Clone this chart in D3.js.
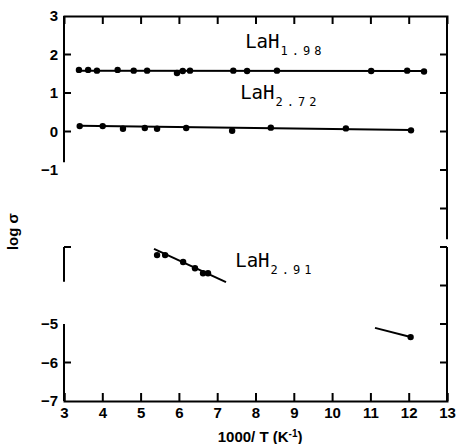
<!DOCTYPE html>
<html>
<head>
<meta charset="utf-8">
<script src="https://cdn.jsdelivr.net/npm/d3@7"></script>
<style>
  body { margin: 0; background: #fff; }
  .tick text { font-family: "Liberation Sans", Arial, sans-serif; font-weight: bold; fill: #000; }
  .lab { font-family: "DejaVu Sans Mono", monospace; fill: #000; }
</style>
</head>
<body>
<div id="chart"></div>
<script>
// measured points, 1000/T vs log sigma
const xLaH198 = [3.39, 3.63, 3.86, 4.40, 4.82, 5.17, 5.95, 6.10, 6.29, 7.42, 7.78, 8.56, 11.02, 11.96, 12.40];
const yLaH198 = [1.60, 1.60, 1.58, 1.60, 1.58, 1.58, 1.52, 1.57, 1.58, 1.58, 1.57, 1.58, 1.57, 1.58, 1.56];

const xLaH272 = [3.41, 4.01, 4.54, 5.11, 5.43, 6.19, 7.39, 8.40, 10.36, 12.06];
const yLaH272 = [0.14, 0.14, 0.07, 0.09, 0.07, 0.09, 0.02, 0.10, 0.08, 0.03];

const xLaH291 = [5.43, 5.64, 6.11, 6.42, 6.63, 6.76, 12.05];
const yLaH291 = [-3.21, -3.21, -3.39, -3.55, -3.68, -3.68, -5.34];

// fitted lines (endpoints)
const fit198 = [[3.40, 1.58], [12.40, 1.57]];
const fit272 = [[3.40, 0.15], [12.06, 0.04]];
const fit291a = [[5.35, -3.05], [7.23, -3.91]];
const fit291b = [[11.12, -5.10], [12.05, -5.34]];

// axis ticks and the broken pieces of the frame
const xTicks = [3, 4, 5, 6, 7, 8, 9, 10, 11, 12, 13];
const yLabels = [3, 2, 1, 0, -1, -5, -6, -7];
const leftTicks = [2, 1, 0, -3, -6];
const rightTicks = [2, 1, 0, -1, -2, -3, -4, -5, -6];
const leftPieces = [[3, -0.8], [-3, -3.9], [-5, -7]];
const rightPieces = [[3, -2.8], [-3, -7]];

const margin = {top: 16, right: 12, bottom: 43, left: 64},
  width = 459 - margin.left - margin.right,
  height = 444 - margin.top - margin.bottom;

const x = d3.scaleLinear().domain([3, 13]).range([0, width]);
const y = d3.scaleLinear().domain([-7, 3]).range([height, 0]);

const svg = d3.select("#chart").append("svg")
  .attr("width", 459)
  .attr("height", 444)
  .append("g")
  .attr("transform", "translate(" + margin.left + "," + margin.top + ")");

// bottom axis, ticks pointing inward
const xAxis = svg.append("g")
  .attr("transform", "translate(0," + height + ")")
  .call(d3.axisBottom(x).tickValues(xTicks).tickSize(-8).tickPadding(6).tickFormat(d3.format("d")));
xAxis.select(".domain").attr("stroke-width", 2);
xAxis.selectAll(".tick line").attr("stroke-width", 2);
xAxis.selectAll("text").style("font-size", "15px");

// top frame
const topAxis = svg.append("g")
  .call(d3.axisTop(x).tickValues(xTicks.slice(1, -1)).tickSize(-8).tickFormat(""));
topAxis.select(".domain").attr("stroke-width", 2);
topAxis.selectAll(".tick line").attr("stroke-width", 2);

// left axis labels + inward ticks
const yAxis = svg.append("g")
  .call(d3.axisLeft(y).tickValues(yLabels).tickSize(0).tickPadding(6).tickFormat(d3.format("d")));
yAxis.select(".domain").remove();
yAxis.selectAll("text").style("font-size", "15px");

svg.selectAll(".lt").data(leftTicks).join("line")
  .attr("x1", 0).attr("x2", 7)
  .attr("y1", d => y(d)).attr("y2", d => y(d))
  .attr("stroke", "#000").attr("stroke-width", 2);

svg.selectAll(".rt").data(rightTicks).join("line")
  .attr("x1", width).attr("x2", width - 7)
  .attr("y1", d => y(d)).attr("y2", d => y(d))
  .attr("stroke", "#000").attr("stroke-width", 2);

// broken vertical axes
svg.selectAll(".lp").data(leftPieces).join("line")
  .attr("x1", 0).attr("x2", 0)
  .attr("y1", d => y(d[0])).attr("y2", d => y(d[1]))
  .attr("stroke", "#000").attr("stroke-width", 2);

svg.selectAll(".rp").data(rightPieces).join("line")
  .attr("x1", width).attr("x2", width)
  .attr("y1", d => y(d[0])).attr("y2", d => y(d[1]))
  .attr("stroke", "#000").attr("stroke-width", 2);

// fit lines
const line = d3.line().x(d => x(d[0])).y(d => y(d[1]));
[fit198, fit272, fit291a, fit291b].forEach(f => {
  svg.append("path")
    .attr("d", line(f))
    .attr("fill", "none")
    .attr("stroke", "#000")
    .attr("stroke-width", 2);
});

// points
function drawPoints(xs, ys) {
  svg.append("g").selectAll("circle")
    .data(xs.map((v, i) => [v, ys[i]]))
    .join("circle")
    .attr("cx", d => x(d[0]))
    .attr("cy", d => y(d[1]))
    .attr("r", 3.2)
    .attr("fill", "#000");
}
drawPoints(xLaH198, yLaH198);
drawPoints(xLaH272, yLaH272);
drawPoints(xLaH291, yLaH291);

// compound labels
function label(xv, yv, sub) {
  const t = svg.append("text")
    .attr("class", "lab")
    .attr("x", x(xv))
    .attr("y", y(yv))
    .style("font-size", "19px");
  t.append("tspan").text("LaH");
  t.append("tspan")
    .attr("dy", 7)
    .attr("dx", 1)
    .style("font-size", "12px")
    .style("letter-spacing", "4px")
    .text(sub);
}
label(7.73, 2.18, "1.98");
label(7.60, 0.85, "2.72");
label(7.47, -3.51, "2.91");

// axis titles
svg.append("text")
  .attr("x", x(8.12))
  .attr("y", height + 41)
  .attr("text-anchor", "middle")
  .style("font-family", "Liberation Sans, Arial, sans-serif")
  .style("font-weight", "bold")
  .style("font-size", "15px")
  .call(t => {
    t.append("tspan").text("1000/ T (K");
    t.append("tspan").attr("dy", -5).style("font-size", "10px").text("-1");
    t.append("tspan").attr("dy", 5).text(")");
  });

svg.append("text")
  .attr("transform", "translate(" + (-46) + "," + y(-2.6) + ") rotate(-90)")
  .attr("text-anchor", "middle")
  .style("font-family", "Liberation Sans, Arial, sans-serif")
  .style("font-weight", "bold")
  .style("font-size", "15px")
  .text("log σ");
</script>
</body>
</html>
